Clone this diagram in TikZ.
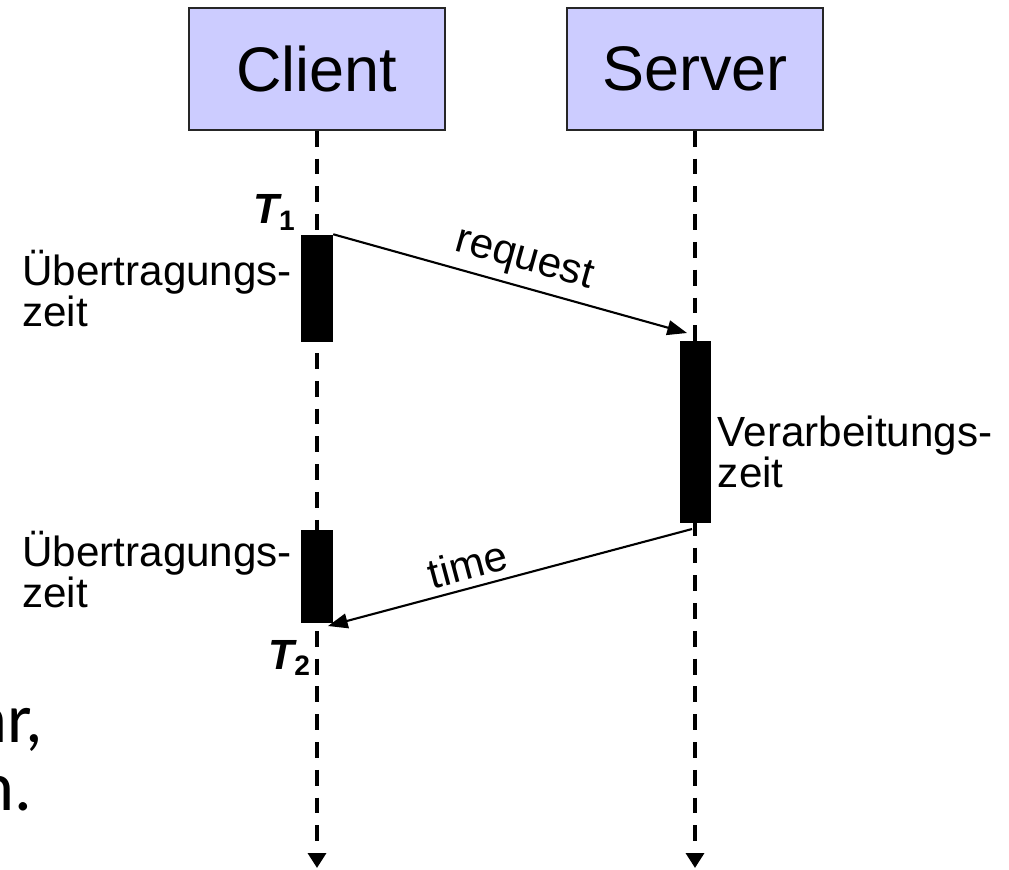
\documentclass[tikz,border=0pt]{standalone}
\usepackage{fontspec}
\setmainfont{Liberation Sans}
\newfontfamily\slidefont{Carlito}
\usetikzlibrary{arrows.meta,positioning}

\definecolor{partyfill}{RGB}{204,204,255}

\tikzset{
	party/.style={draw=black!85,line width=0.45pt,fill=partyfill,minimum width=2.56cm,minimum height=1.22cm,inner sep=0pt,font=\fontsize{17.9}{20}\selectfont},
	lifeline/.style={line width=1.1pt,dash pattern=on 4.5pt off 3.4pt,-{Triangle[length=4.2pt,width=5pt]}},
	bar/.style={fill=black,minimum width=0.31cm,minimum height=#1,inner sep=0pt},
	msg/.style={line width=0.6pt,-{Triangle[length=5.6pt,width=4.2pt]}},
	note/.style={font=\fontsize{12}{11.6}\selectfont,align=left,inner sep=0pt},
	msglabel/.style={sloped,above,inner sep=2pt,font=\fontsize{12}{12}\selectfont},
	tlabel/.style={font=\fontsize{12}{12}\selectfont\bfseries,inner sep=1pt}
}

\begin{document}
\begin{tikzpicture}[x=0.01cm,y=-0.01cm]

			\useasboundingbox (0,0) rectangle (1009,869);

			\node[party] (client) at (317,69) {Client};
			\node[party] (server) at (695,69) {Server};

			\coordinate (cend) at (317,868);
			\coordinate (send) at (695,868);

			\draw[lifeline] (client.south) -- (cend);
			\draw[lifeline] (server.south) -- (send);

			\node[bar=1.07cm] (cbar1) at (317,288.5) {};
			\node[bar=1.82cm] (sbar) at (695,432) {};
			\node[bar=0.93cm] (cbar2) at (317,576.5) {};

			\coordinate (reqend) at (687,333);
			\coordinate (timestart) at (692,529);
			\coordinate (timeend) at (328,626);

			\draw[msg] (cbar1.north east) -- node[msglabel,pos=0.52] {request} (reqend);
			\draw[msg] (timestart) -- node[msglabel,pos=0.6] {time} (timeend);

			\node[tlabel,anchor=south east] (t1) at (cbar1.north west) {\itshape T\textsubscript{\upshape 1}};
			\node[tlabel,anchor=north east] (t2) at (316,636) {\itshape T\textsubscript{\upshape 2}};

			\node[note,left=0.08cm of cbar1] (send1) {Übertragungs-\\zeit};
			\node[note,left=0.08cm of cbar2,yshift=0.07cm] (send2) {Übertragungs-\\zeit};
			\node[note,right=0.06cm of sbar,yshift=-0.2cm] (work) {Verarbeitungs-\\zeit};

			\node[anchor=base east,inner sep=0pt,font=\slidefont\fontsize{20}{20}\selectfont] (cut1) at (44,742) {hr,};
			\node[anchor=base east,inner sep=0pt,font=\slidefont\fontsize{20}{20}\selectfont] (cut2) at (33,810) {n.};

		\end{tikzpicture}
\end{document}
